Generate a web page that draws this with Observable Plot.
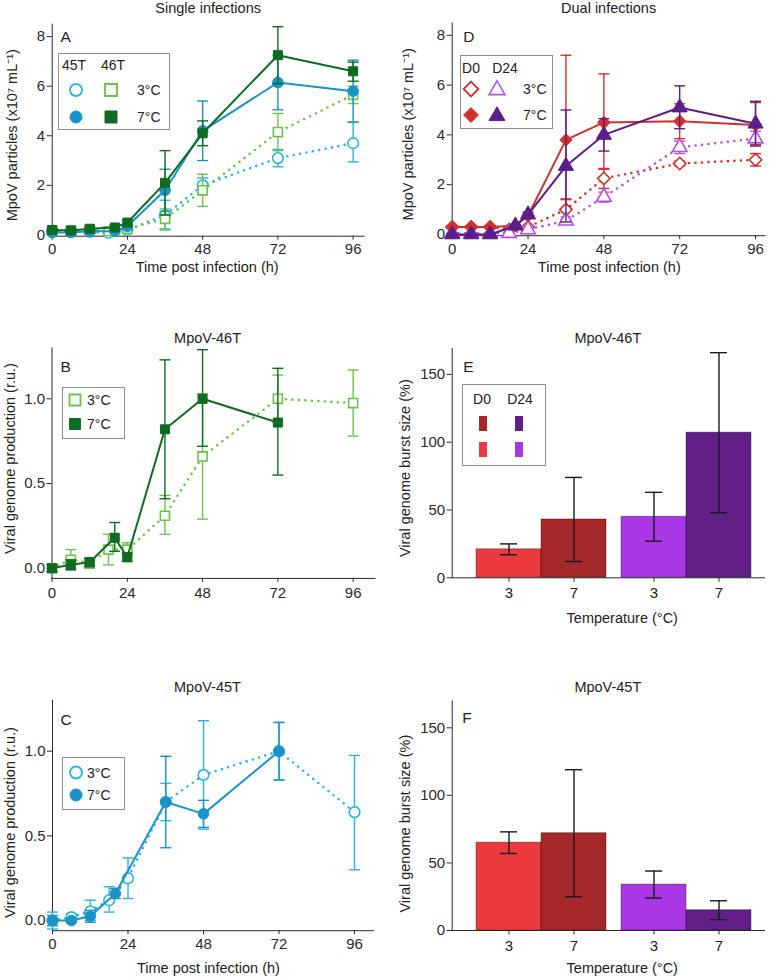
<!DOCTYPE html>
<html><head><meta charset="utf-8">
<script src="https://cdn.jsdelivr.net/npm/d3@7"></script>
<script src="https://cdn.jsdelivr.net/npm/@observablehq/plot@0.6"></script>
<style>
body{margin:0;background:#fff;}
#root{position:relative;width:778px;height:977px;background:#fff;font-family:"Liberation Sans",Arial,Helvetica,sans-serif;color:#222;overflow:hidden;}
.panel{position:absolute;}
.legend{position:absolute;border:1.2px solid #8f8f8f;background:#fff;box-sizing:border-box;}
</style></head><body><div id="root"></div>
<script>
// ---------- DATA ----------
const xTicks = [0, 24, 48, 72, 96];
const time3 = [0, 6, 12, 18, 24, 36, 48, 72, 96];
const time7 = [0, 6, 12, 20, 24, 36, 48, 72, 96];

// Panel A: single infections, MpoV particles (x10^7 mL-1)
const a45T3 = [0.15, 0.15, 0.12, 0.08, 0.2, 0.8, 2.0, 3.1, 3.7];
const a45T3Lo = [0.1, 0.1, 0.07, 0.03, 0.12, 0.2, 1.7, 2.75, 2.95];
const a45T3Hi = [0.2, 0.2, 0.17, 0.13, 0.28, 1.4, 2.3, 3.45, 4.55];
const a46T3 = [0.18, 0.18, 0.2, 0.15, 0.25, 0.65, 1.8, 4.15, 5.65];
const a46T3Lo = [0.12, 0.12, 0.14, 0.1, 0.15, 0.25, 1.15, 3.4, 5.3];
const a46T3Hi = [0.24, 0.24, 0.26, 0.2, 0.35, 1.05, 2.45, 4.9, 6.0];
const a45T7 = [0.1, 0.1, 0.15, 0.15, 0.35, 1.8, 4.2, 6.15, 5.8];
const a45T7Lo = [0.05, 0.05, 0.1, 0.1, 0.25, 0.95, 3.0, 5.05, 4.55];
const a45T7Hi = [0.15, 0.15, 0.2, 0.2, 0.45, 2.65, 5.4, 7.25, 7.05];
const a46T7 = [0.2, 0.18, 0.25, 0.3, 0.5, 2.1, 4.1, 7.25, 6.6];
const a46T7Lo = [0.15, 0.13, 0.18, 0.2, 0.4, 0.8, 3.6, 6.1, 6.2];
const a46T7Hi = [0.25, 0.23, 0.32, 0.4, 0.6, 3.4, 4.6, 8.4, 6.97];

// Panel D: dual infections
const d0T3 = [0.3, 0.3, 0.3, 0.2, 0.3, 1.0, 2.25, 2.85, 3.0];
const d0T3Lo = [0.25, 0.25, 0.25, 0.15, 0.25, 0.6, 1.85, 2.75, 2.75];
const d0T3Hi = [0.35, 0.35, 0.35, 0.25, 0.35, 1.4, 2.65, 2.95, 3.25];
const d24T3 = [0.05, 0.05, 0.05, 0.05, 0.2, 0.55, 1.5, 3.5, 3.85];
const d24T3Lo = [0.03, 0.03, 0.03, 0.03, 0.15, 0.4, 1.3, 3.25, 3.55];
const d24T3Hi = [0.07, 0.07, 0.07, 0.07, 0.25, 0.7, 1.7, 3.75, 4.15];
const d0T7 = [0.3, 0.3, 0.3, 0.35, 0.75, 3.8, 4.5, 4.55, 4.4];
const d0T7Lo = [0.25, 0.25, 0.25, 0.3, 0.65, 1.43, 2.62, 3.85, 3.55];
const d0T7Hi = [0.35, 0.35, 0.35, 0.4, 0.85, 7.2, 6.45, 5.25, 5.3];
const d24T7 = [0.0, 0.0, 0.0, 0.35, 0.8, 2.75, 4.0, 5.1, 4.45];
const d24T7Lo = [-0.02, -0.02, -0.02, 0.3, 0.7, 0.5, 3.35, 4.25, 3.6];
const d24T7Hi = [0.02, 0.02, 0.02, 0.4, 0.9, 5.0, 4.65, 5.97, 5.35];

// Panel B: MpoV-46T genome production
const timeB3 = [0, 6, 12, 18, 24, 36, 48, 72, 96];
const b3 = [0.0, 0.05, 0.03, 0.11, 0.11, 0.31, 0.66, 1.0, 0.975];
const b3Lo = [-0.02, 0.0, 0.0, 0.02, 0.07, 0.2, 0.29, 0.86, 0.78];
const b3Hi = [0.02, 0.11, 0.06, 0.2, 0.15, 0.43, 1.03, 1.14, 1.17];
const timeB7 = [0, 6, 12, 20, 24, 36, 48, 72];
const b7 = [0.0, 0.02, 0.035, 0.18, 0.065, 0.82, 1.0, 0.86];
const b7Lo = [-0.02, -0.01, 0.01, 0.1, 0.04, 0.41, 0.72, 0.55];
const b7Hi = [0.02, 0.05, 0.06, 0.27, 0.09, 1.23, 1.29, 1.18];

// Panel C: MpoV-45T genome production
const timeC3 = [0, 6, 12, 18, 24, 36, 48, 72, 96];
const c3 = [0.0, 0.02, 0.055, 0.12, 0.25, 0.7, 0.86, 1.0, 0.64];
const c3Lo = [-0.05, 0.0, 0.0, 0.05, 0.13, 0.59, 0.54, 0.83, 0.3];
const c3Hi = [0.05, 0.04, 0.12, 0.2, 0.37, 0.81, 1.18, 1.17, 0.975];
const timeC7 = [0, 6, 12, 20, 36, 48, 72];
const c7 = [0.0, 0.0, 0.025, 0.16, 0.7, 0.63, 1.0];
const c7Lo = [-0.03, -0.01, -0.01, 0.13, 0.43, 0.55, 0.83];
const c7Hi = [0.03, 0.01, 0.06, 0.19, 0.97, 0.71, 1.17];

// Panels E, F: burst size (%)
const barKeys = ["D0-3", "D0-7", "D24-3", "D24-7"];
const barGroups = ["D0", "D0", "D24", "D24"];
const barTemps = [3, 7, 3, 7];
const e46T = [21, 43, 45, 107];
const e46TLo = [17, 12, 27, 48];
const e46THi = [25, 74, 63, 166];
const f45T = [65, 72, 34, 15];
const f45TLo = [57, 25, 24, 8];
const f45THi = [73, 119, 44, 22];

// ---------- STYLE ----------
const FONT = '"Liberation Sans", Arial, Helvetica, sans-serif';
const C45_3 = "#2db2e6", C45_7 = "#1a93c8", C46_3 = "#6cc24a", C46_7 = "#0f6b22";
const CD0 = "#d2302c", CD24_3 = "#b350e8", CD24_7 = "#5a1e88";
const barColor = {"D0-3": "#ec3a3e", "D0-7": "#a6282b", "D24-3": "#aa37e6", "D24-7": "#621f88"};

const root = document.getElementById("root");
const cap = {draw(ctx, size) { const r = Math.sqrt(size / Math.PI); ctx.moveTo(-r, 0); ctx.lineTo(r, 0); }};
function rows(t, y, lo, hi) { return t.map((d, i) => ({t: d, y: y[i], lo: lo[i], hi: hi[i]})); }
function barRows(v, lo, hi) { return barKeys.map((k, i) => ({key: k, group: barGroups[i], temp: barTemps[i], v: v[i], lo: lo[i], hi: hi[i]})); }
function place(node, left, top) {
  const div = document.createElement("div");
  div.className = "panel";
  div.style.left = left + "px"; div.style.top = top + "px";
  div.appendChild(node); root.appendChild(div);
}

function seriesMarks(s) {
  const d = s.data;
  return [
    Plot.ruleX(d, {x: "t", y1: "lo", y2: "hi", stroke: s.color, strokeWidth: 1.4}),
    Plot.dot(d, {x: "t", y: "lo", symbol: cap, r: 5.5, fill: "none", stroke: s.color, strokeWidth: 1.4}),
    Plot.dot(d, {x: "t", y: "hi", symbol: cap, r: 5.5, fill: "none", stroke: s.color, strokeWidth: 1.4}),
    Plot.line(d, {x: "t", y: "y", stroke: s.color, strokeWidth: s.dotted ? 2.6 : 2,
      strokeDasharray: s.dotted ? "0 6.5" : undefined, strokeLinecap: "round", strokeLinejoin: "round"}),
    Plot.dot(d, {x: "t", y: "y", symbol: s.symbol, r: s.r, fill: s.open ? "white" : s.color,
      stroke: s.color, strokeWidth: s.open ? 1.6 : 1})
  ];
}

function textMarks(o) {
  const m = [
    Plot.text([o.title], {frameAnchor: "top", text: d => d, dx: o.titleDx, dy: o.titleDy, lineAnchor: "middle", fontSize: 14.5, fill: "#222"}),
    Plot.text([o.letter], {frameAnchor: "top-left", text: d => d, dx: o.letterDx, dy: o.letterDy, textAnchor: "start", lineAnchor: "top", fontSize: 15.5, fill: "#222"}),
    Plot.text([o.ylabel], {frameAnchor: "left", text: d => d, rotate: -90, dx: o.ylabelDx, dy: o.ylabelDy, textAnchor: "middle", lineAnchor: "middle", fontSize: 14.5, fill: "#222"})
  ];
  if (o.xlabel) m.push(Plot.text([o.xlabel], {frameAnchor: "bottom", text: d => d, dx: o.xlabelDx, dy: o.xlabelDy, lineAnchor: "middle", fontSize: 14.5, fill: "#222"}));
  return m;
}

function linePanel(o) {
  const marks = [];
  for (const s of o.series) marks.push(...seriesMarks(s));
  marks.push(...textMarks(o));
  return Plot.plot({
    width: o.w, height: o.h, marginLeft: o.ml, marginRight: o.mr, marginTop: o.mt, marginBottom: o.mb,
    style: {fontFamily: FONT, fontSize: "15px", color: "#2a2a2a", background: "transparent", overflow: "visible"},
    x: {domain: o.xDomain, ticks: xTicks, tickSize: 4, tickPadding: o.xPad, line: true, label: null, tickFormat: d3.format("d")},
    y: {domain: o.yDomain, ticks: o.yTicks, tickSize: 5, tickPadding: 2, line: true, label: null, tickFormat: o.yFormat},
    marks
  });
}

function barPanel(o) {
  const g0 = o.data.filter(d => d.group === "D0"), g24 = o.data.filter(d => d.group === "D24");
  const bm = (d, dx) => [
    Plot.barY(d, {x: "key", y: "v", fill: r => barColor[r.key], stroke: "#000", strokeOpacity: 0.35, strokeWidth: 1, dx}),
    Plot.ruleX(d, {x: "key", y1: "lo", y2: "hi", stroke: "#1a1a1a", strokeWidth: 1.4, dx}),
    Plot.tickY(d, {x: "key", y: "lo", stroke: "#1a1a1a", strokeWidth: 1.4, insetLeft: 24, insetRight: 24, dx}),
    Plot.tickY(d, {x: "key", y: "hi", stroke: "#1a1a1a", strokeWidth: 1.4, insetLeft: 24, insetRight: 24, dx}),
    Plot.ruleX(d, {x: "key", y1: () => 0, y2: () => 0, insetBottom: -4.5, stroke: "#2a2a2a", strokeWidth: 1, dx}),
    Plot.text(d, {x: "key", text: "temp", frameAnchor: "bottom", lineAnchor: "top", dy: 10, dx, fontSize: 15, fill: "#222"})
  ];
  const marks = [...bm(g0, 0), ...bm(g24, 15), Plot.ruleY([0], {stroke: "#2a2a2a", strokeWidth: 1}), ...textMarks(o)];
  return Plot.plot({
    width: o.w, height: o.h, marginLeft: o.ml, marginRight: o.mr, marginTop: o.mt, marginBottom: o.mb,
    style: {fontFamily: FONT, fontSize: "15px", color: "#2a2a2a", background: "transparent", overflow: "visible"},
    x: {type: "band", domain: barKeys, paddingInner: 0, paddingOuter: 0.3735, align: 0.4523, axis: null},
    y: {domain: o.yDomain, ticks: [0, 50, 100, 150], tickSize: 5, tickPadding: 2, line: true, label: null, tickFormat: d3.format("d")},
    color: {type: "identity"},
    marks
  });
}

const particlesLabel = "MpoV particles (x10\u2077 mL\u207B\u00B9)";
const prodLabel = "Viral genome production (r.u.)";
const burstLabel = "Viral genome burst size (%)";
const timeLabel = "Time post infection (h)";
const tempLabel = "Temperature (\u00B0C)";

// Panel A
place(linePanel({
  w: 389, h: 280, ml: 51.7, mr: 25.4, mt: 23.7, mb: 44.3,
  xDomain: [0, 99.5], yDomain: [-0.05, 8.5], yTicks: [0, 2, 4, 6, 8], yFormat: d3.format("d"), xPad: 3,
  series: [
    {data: rows(time3, a45T3, a45T3Lo, a45T3Hi), color: C45_3, symbol: "circle", r: 5.3, open: true, dotted: true},
    {data: rows(time3, a46T3, a46T3Lo, a46T3Hi), color: C46_3, symbol: "square", r: 5.1, open: true, dotted: true},
    {data: rows(time7, a45T7, a45T7Lo, a45T7Hi), color: C45_7, symbol: "circle", r: 5.3, open: false, dotted: false},
    {data: rows(time7, a46T7, a46T7Lo, a46T7Hi), color: C46_7, symbol: "square", r: 5.1, open: false, dotted: false}
  ],
  title: "Single infections", titleDx: 0, titleDy: -15.7,
  letter: "A", letterDx: 8.3, letterDy: 7,
  ylabel: particlesLabel, ylabelDx: -39.7, ylabelDy: 5,
  xlabel: timeLabel, xlabelDx: -1, xlabelDy: 31.3
}), 0, 0);

// Panel D
place(linePanel({
  w: 389, h: 280, ml: 62.7, mr: 13.5, mt: 22.4, mb: 44.8,
  xDomain: [0, 99], yDomain: [-0.05, 8.5], yTicks: [0, 2, 4, 6, 8], yFormat: d3.format("d"), xPad: 3.5,
  series: [
    {data: rows(time3, d0T3, d0T3Lo, d0T3Hi), color: CD0, symbol: "diamond2", r: 5.6, open: true, dotted: true},
    {data: rows(time3, d24T3, d24T3Lo, d24T3Hi), color: CD24_3, symbol: "triangle", r: 5.4, open: true, dotted: true},
    {data: rows(time7, d0T7, d0T7Lo, d0T7Hi), color: CD0, symbol: "diamond2", r: 5.6, open: false, dotted: false},
    {data: rows(time7, d24T7, d24T7Lo, d24T7Hi), color: CD24_7, symbol: "triangle", r: 5.6, open: false, dotted: false}
  ],
  title: "Dual infections", titleDx: 0, titleDy: -14.4,
  letter: "D", letterDx: 11, letterDy: 8.3,
  ylabel: particlesLabel, ylabelDx: -43.7, ylabelDy: 5,
  xlabel: timeLabel, xlabelDx: 0.7, xlabelDy: 31.5
}), 389, 0);

// Panel B
place(linePanel({
  w: 389, h: 300, ml: 51.5, mr: 14.4, mt: 47.5, mb: 22.1,
  xDomain: [0, 103], yDomain: [-0.06, 1.3], yTicks: [0, 0.5, 1], yFormat: d3.format(".1f"), xPad: 5.4,
  series: [
    {data: rows(timeB3, b3, b3Lo, b3Hi), color: C46_3, symbol: "square", r: 5.1, open: true, dotted: true},
    {data: rows(timeB7, b7, b7Lo, b7Hi), color: C46_7, symbol: "square", r: 5.1, open: false, dotted: false}
  ],
  title: "MpoV-46T", titleDx: -6, titleDy: -9.5,
  letter: "B", letterDx: 8.5, letterDy: 12.5,
  ylabel: prodLabel, ylabelDx: -41.5, ylabelDy: -4.7
}), 0, 300);

// Panel C
place(linePanel({
  w: 389, h: 337, ml: 52, mr: 16.1, mt: 59.9, mb: 46.8,
  xDomain: [0, 102], yDomain: [-0.06, 1.3], yTicks: [0, 0.5, 1], yFormat: d3.format(".1f"), xPad: 4,
  series: [
    {data: rows(timeC3, c3, c3Lo, c3Hi), color: C45_3, symbol: "circle", r: 5.3, open: true, dotted: true},
    {data: rows(timeC7, c7, c7Lo, c7Hi), color: C45_7, symbol: "circle", r: 5.3, open: false, dotted: false}
  ],
  title: "MpoV-45T", titleDx: -5.5, titleDy: -12.9,
  letter: "C", letterDx: 8, letterDy: 14,
  ylabel: prodLabel, ylabelDx: -42, ylabelDy: 7,
  xlabel: timeLabel, xlabelDx: -4.5, xlabelDy: 38
}), 0, 640);

// Panel E
place(barPanel({
  w: 389, h: 330, ml: 62.7, mr: 13, mt: 48.1, mb: 52.7, yDomain: [0, 169],
  data: barRows(e46T, e46TLo, e46THi),
  title: "MpoV-46T", titleDx: -1, titleDy: -10,
  letter: "E", letterDx: 11, letterDy: 12,
  ylabel: burstLabel, ylabelDx: -46.7, ylabelDy: 5,
  xlabel: tempLabel, xlabelDx: 13.4, xlabelDy: 40.7
}), 389, 300);

// Panel F
place(barPanel({
  w: 389, h: 337, ml: 62.7, mr: 13, mt: 60.3, mb: 47, yDomain: [0, 170],
  data: barRows(f45T, f45TLo, f45THi),
  title: "MpoV-45T", titleDx: -1, titleDy: -13.3,
  letter: "F", letterDx: 10, letterDy: 11.4,
  ylabel: burstLabel, ylabelDx: -46.7, ylabelDy: 8,
  xlabel: tempLabel, xlabelDx: 13.4, xlabelDy: 38.3
}), 389, 640);

// ---------- LEGENDS ----------
function legendBox(left, top, w, h, draw) {
  const div = document.createElement("div");
  div.className = "legend";
  Object.assign(div.style, {left: left + "px", top: top + "px", width: w + "px", height: h + "px"});
  const svg = d3.select(div).append("svg").attr("width", w).attr("height", h)
    .style("position", "absolute").style("left", "-1px").style("top", "-1px").style("overflow", "visible");
  draw(svg);
  root.appendChild(div);
}
function sym(svg, type, size, x, y, fill, stroke, sw) {
  svg.append("path").attr("d", d3.symbol(type, size)()).attr("transform", `translate(${x},${y})`)
    .attr("fill", fill).attr("stroke", stroke).attr("stroke-width", sw);
}
function txt(svg, s, x, y, anchor) {
  svg.append("text").text(s).attr("x", x).attr("y", y).attr("text-anchor", anchor || "start")
    .attr("dy", "0.36em").attr("font-size", 14).attr("font-family", FONT).attr("fill", "#222");
}
function rect(svg, x, y, w, h, fill) {
  svg.append("rect").attr("x", x).attr("y", y).attr("width", w).attr("height", h).attr("fill", fill);
}

legendBox(58, 53, 112, 77, svg => {
  txt(svg, "45T", 16, 12, "middle"); txt(svg, "46T", 55, 12, "middle");
  sym(svg, d3.symbolCircle, Math.PI * 36, 18, 37, "white", C45_3, 1.8);
  sym(svg, d3.symbolSquare, 144, 53, 37, "white", C46_3, 1.8);
  txt(svg, "3\u00B0C", 79, 37);
  sym(svg, d3.symbolCircle, Math.PI * 36, 18, 64, C45_7, C45_7, 1);
  sym(svg, d3.symbolSquare, 144, 53, 64, C46_7, C46_7, 1);
  txt(svg, "7\u00B0C", 79, 64);
});
legendBox(460, 55, 93, 74, svg => {
  txt(svg, "D0", 11, 13, "middle"); txt(svg, "D24", 45, 13, "middle");
  sym(svg, d3.symbolDiamond2, 140, 11, 34, "white", CD0, 1.8);
  sym(svg, d3.symbolTriangle, 110, 37, 35, "white", CD24_3, 1.6);
  txt(svg, "3\u00B0C", 63, 34);
  sym(svg, d3.symbolDiamond2, 140, 11, 60, CD0, CD0, 1);
  sym(svg, d3.symbolTriangle, 110, 37, 61, CD24_7, CD24_7, 1);
  txt(svg, "7\u00B0C", 63, 60);
});
legendBox(62, 387, 63, 52, svg => {
  sym(svg, d3.symbolSquare, 120, 13, 13, "white", C46_3, 1.8);
  txt(svg, "3\u00B0C", 25, 13);
  sym(svg, d3.symbolSquare, 120, 13, 37, C46_7, C46_7, 1);
  txt(svg, "7\u00B0C", 25, 37);
});
legendBox(62, 757, 63, 53, svg => {
  sym(svg, d3.symbolCircle, Math.PI * 36, 14, 15.5, "white", C45_3, 1.8);
  txt(svg, "3\u00B0C", 25, 15.5);
  sym(svg, d3.symbolCircle, Math.PI * 36, 14, 38, C45_7, C45_7, 1);
  txt(svg, "7\u00B0C", 25, 38);
});
legendBox(462, 384, 84, 82, svg => {
  txt(svg, "D0", 20, 15, "middle"); txt(svg, "D24", 58, 15, "middle");
  rect(svg, 17, 32, 8, 15, barColor["D0-7"]);
  rect(svg, 53, 32, 8, 15, barColor["D24-7"]);
  rect(svg, 17, 58, 8, 15, barColor["D0-3"]);
  rect(svg, 53, 58, 8, 15, barColor["D24-3"]);
});
</script>
</body></html>
